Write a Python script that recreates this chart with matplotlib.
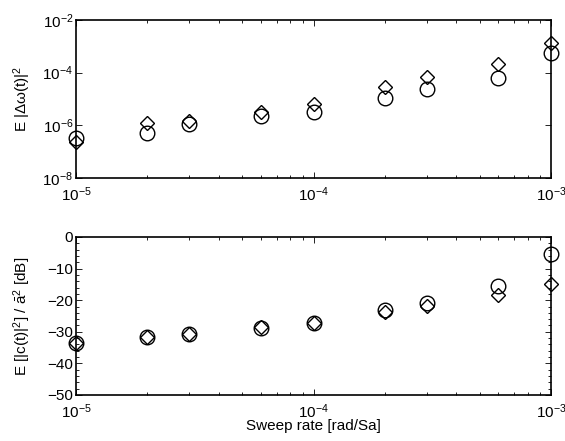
import numpy as np
import matplotlib
matplotlib.use('Agg')
import matplotlib.pyplot as plt
from matplotlib.ticker import LogLocator, MultipleLocator, NullLocator

plt.rcParams['font.family'] = ['Liberation Sans', 'DejaVu Sans']
plt.rcParams['mathtext.fontset'] = 'custom'
plt.rcParams['mathtext.rm'] = 'Liberation Sans'
plt.rcParams['mathtext.it'] = 'Liberation Sans'
plt.rcParams['mathtext.bf'] = 'Liberation Sans:bold'
plt.rcParams['mathtext.default'] = 'regular'
plt.rcParams['font.size'] = 11

# sweep rates [rad/Sa]
rate = [1e-5, 2e-5, 3e-5, 6e-5, 1e-4, 2e-4, 3e-4, 6e-4, 1e-3]

# frequency error
dw_circ = [3.4e-7, 5.2e-7, 1.1e-6, 2.3e-6, 3.1e-6, 1.1e-5, 2.3e-5, 6.2e-5, 5.7e-4]
dw_diam = [2.4e-7, 1.2e-6, 1.4e-6, 3.3e-6, 6.4e-6, 2.9e-5, 6.6e-5, 2.2e-4, 1.3e-3]

# normalised error power [dB]
c_circ = [-33.6, -31.7, -30.8, -28.9, -27.3, -23.1, -21.0, -15.5, -5.5]
c_diam = [-33.6, -31.7, -30.8, -28.4, -27.3, -23.6, -21.8, -18.4, -15.0]

fig = plt.figure(figsize=(5.65, 4.41), dpi=100)
ax1 = fig.add_axes([76/565, 1-178/441, 475/565, 158/441])
ax2 = fig.add_axes([76/565, 1-395/441, 475/565, 158/441])

mk = dict(linestyle='none', markerfacecolor='none', markeredgecolor='k',
          markeredgewidth=1.0, clip_on=False)

ax1.loglog(rate, dw_circ, marker='o', markersize=10.5, **mk)
ax1.loglog(rate, dw_diam, marker='D', markersize=7.5, **mk)
ax1.set_xlim(1e-5, 1e-3)
ax1.set_ylim(1e-8, 1e-2)
ax1.yaxis.set_major_locator(LogLocator(base=100.0, numticks=10))
ax1.yaxis.set_minor_locator(NullLocator())
ax1.set_ylabel(r'E $|\Delta\omega(t)|^2$')

ax2.semilogx(rate, c_circ, marker='o', markersize=10.5, **mk)
ax2.semilogx(rate, c_diam, marker='D', markersize=7.5, **mk)
ax2.set_xlim(1e-5, 1e-3)
ax2.set_ylim(-50, 0)
ax2.yaxis.set_major_locator(MultipleLocator(10))
ax2.yaxis.set_minor_locator(MultipleLocator(2))
ax2.set_ylabel(r'E $[|c(t)|^2]$ / $\bar{a}^2$ [dB]')
ax2.set_xlabel('Sweep rate [rad/Sa]', labelpad=-1)

for ax in (ax1, ax2):
    ax.xaxis.set_minor_locator(LogLocator(base=10.0, subs=np.arange(2, 10), numticks=20))
    ax.tick_params(which='both', direction='in', top=True, right=True, width=0.6)
    ax.tick_params(which='major', length=4)
    ax.tick_params(axis='x', which='major', pad=5)
    ax.tick_params(axis='y', which='major', pad=2)
    ax.tick_params(which='minor', length=2)
    for s in ax.spines.values():
        s.set_linewidth(1.2)
    ax.yaxis.set_label_coords(-0.09, 0.5)

fig.savefig('out.png', dpi=100)
